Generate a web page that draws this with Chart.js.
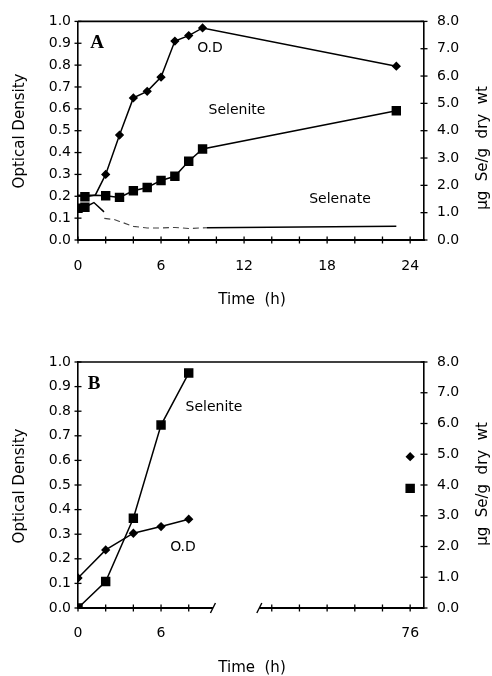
<!DOCTYPE html>
<html>
<head>
<meta charset="utf-8">
<script src="https://cdn.jsdelivr.net/npm/chart.js@4.4.1/dist/chart.umd.min.js"></script>
<style>
  body { margin: 0; background: #fff; width: 492px; height: 676px; overflow: hidden; }
  canvas { position: absolute; left: 0; }
  #chartA { top: 0; }
  #chartB { top: 330px; }
</style>
</head>
<body>
<canvas id="chartA" width="492" height="330"></canvas>
<canvas id="chartB" width="492" height="346"></canvas>
<script>
// ---- panel A (0-24 h) ----
const odTimeA = [0, 1.25, 2, 3, 4, 5, 6, 7, 8, 9, 23];
const odA = [0.205, 0.205, 0.30, 0.48, 0.65, 0.68, 0.745, 0.91, 0.935, 0.97, 0.795];
const seleniteTimeA = [0.5, 1.25, 2, 3, 4, 5, 6, 7, 8, 9, 23];
const seleniteA = [1.58, 1.64, 1.62, 1.56, 1.8, 1.92, 2.18, 2.33, 2.88, 3.33, 4.73];
const selenateTimeA = [0, 0.5, 1.15, 1.88, 1.9, 1.9, 2.6, 3, 4, 5, 6, 7, 8, 9.3, 23];
const selenateA = [1.16, 1.2, 1.37, 1.03, null, 0.79, 0.75, 0.68, 0.5, 0.44, 0.44, 0.46, 0.42, 0.45, 0.5];
const xTicksA = [0, 2, 4, 6, 8, 10, 12, 14, 16, 18, 20, 22, 24];
const xLabelsA = [0, 6, 12, 18, 24];

// ---- panel B (broken axis, 0-8 h and 76 h) ----
const timeB = [0, 2, 4, 6, 8, 76];
const odB = [0.122, 0.236, 0.304, 0.331, 0.361, 0.615];
const seleniteB = [0.0, 0.86, 2.92, 5.95, 7.64, 3.89];
const xTicksB = [0, 2, 4, 6, 8, 66, 68, 70, 72, 74, 76];
const xLabelsB = [0, 6, 76];

// broken time axis: hours after the break are shifted left
const BREAK_LO = 9.75, BREAK_HI = 13.1, SHIFT = 52;
function toAxis(t) { return t > 40 ? t - SHIFT : t; }
function fromAxis(u) { return u > BREAK_HI ? u + SHIFT : u; }

function pts(xs, ys, map) {
    return xs.map(function(x, i) { return {x: map ? map(x) : x, y: ys[i]}; });
}

Chart.defaults.font.family = 'DejaVu Sans';
Chart.defaults.font.size = 14;
Chart.defaults.color = '#000';

const FONT = '14px "DejaVu Sans"';

// cross tick marks, top frame line, broken axis and texts
const decor = {
    id: 'decor',
    afterDraw(chart, args, opts) {
        const ctx = chart.ctx, a = chart.chartArea;
        ctx.save();
        ctx.strokeStyle = '#000';
        ctx.lineWidth = 1.3;
        ['y', 'y1'].forEach(function(id) {
            const s = chart.scales[id];
            const x = id === 'y' ? a.left : a.right;
            s.ticks.forEach(function(t) {
                const py = s.getPixelForValue(t.value);
                ctx.beginPath(); ctx.moveTo(x - 3.5, py); ctx.lineTo(x + 3.5, py); ctx.stroke();
            });
        });
        const sx = chart.scales.x;
        sx.ticks.forEach(function(t) {
            const px = sx.getPixelForValue(t.value);
            ctx.beginPath(); ctx.moveTo(px, a.bottom - 3.5); ctx.lineTo(px, a.bottom + 3.5); ctx.stroke();
        });
        ctx.lineWidth = 1.6;
        ctx.beginPath(); ctx.moveTo(a.left, a.top); ctx.lineTo(a.right, a.top); ctx.stroke();
        if (opts.broken) {
            const p1 = sx.getPixelForValue(BREAK_LO), p2 = sx.getPixelForValue(BREAK_HI);
            ctx.lineWidth = 1.8;
            ctx.beginPath();
            ctx.moveTo(a.left, a.bottom); ctx.lineTo(p1, a.bottom);
            ctx.moveTo(p2, a.bottom); ctx.lineTo(a.right, a.bottom);
            ctx.stroke();
            ctx.lineWidth = 1.4;
            [p1, p2].forEach(function(p) {
                ctx.beginPath(); ctx.moveTo(p - 2.5, a.bottom + 5); ctx.lineTo(p + 2.5, a.bottom - 5); ctx.stroke();
            });
        }
        ctx.fillStyle = '#000';
        opts.texts.forEach(function(t) {
            ctx.save();
            ctx.font = t.font || FONT;
            ctx.textAlign = 'center';
            ctx.textBaseline = 'middle';
            ctx.translate(t.x, t.y);
            if (t.rot) ctx.rotate(t.rot);
            ctx.fillText(t.text, 0, 0);
            ctx.restore();
        });
        ctx.restore();
    }
};

function yAxes(width1, width2) {
    return {
        y: {
            position: 'left', min: 0, max: 1,
            ticks: { stepSize: 0.1, padding: 7, callback: function(v) { return v.toFixed(1); } },
            grid: { display: false, drawTicks: false },
            border: { color: '#000', width: 1.6 },
            afterFit: function(s) { s.width = width1; }
        },
        y1: {
            position: 'right', min: 0, max: 8,
            ticks: { stepSize: 1, padding: 13, callback: function(v) { return v.toFixed(1); } },
            grid: { display: false, drawTicks: false },
            border: { color: '#000', width: 1.6 },
            afterFit: function(s) { s.width = width2; }
        }
    };
}

const lineStyle = { borderColor: '#000', backgroundColor: '#000', borderWidth: 1.5, tension: 0, fill: false };

// ---- chart A ----
const scalesA = yAxes(78, 68);
scalesA.x = {
    type: 'linear', min: 0, max: 25,
    ticks: {
        padding: 18, autoSkip: false, maxRotation: 0,
        callback: function(v) { return xLabelsA.indexOf(v) >= 0 ? String(v) : ''; }
    },
    afterBuildTicks: function(s) {
        s.ticks = xTicksA.map(function(v) { return {value: v}; });
    },
    grid: { display: false, drawTicks: false },
    border: { color: '#000', width: 2 },
    afterFit: function(s) { s.height = 90; }
};

const dashedPart = function(c) { return c.p0.parsed.x >= 1.9 && c.p1.parsed.x <= 9.3; };

new Chart(document.getElementById('chartA'), {
    type: 'line',
    data: {
        datasets: [
            Object.assign({
                label: 'O.D', yAxisID: 'y', data: pts(odTimeA, odA),
                pointStyle: 'rectRot',
                pointRadius: function(c) { return c.raw && c.raw.x < 1.5 ? 0 : 3.6; }
            }, lineStyle),
            Object.assign({
                label: 'Selenite', yAxisID: 'y1', data: pts(seleniteTimeA, seleniteA),
                pointStyle: 'rect',
                pointRadius: function(c) { return c.raw && c.raw.x === 1.25 ? 0 : 5.6; }
            }, lineStyle),
            Object.assign({}, lineStyle, {
                label: 'Selenate', yAxisID: 'y1', data: pts(selenateTimeA, selenateA),
                pointStyle: 'rect', spanGaps: false,
                pointRadius: function(c) { return c.raw && c.raw.x <= 0.5 ? 5.6 : 0; },
                segment: {
                    borderDash: function(c) { return dashedPart(c) ? [6, 4] : undefined; },
                    borderColor: function(c) { return dashedPart(c) ? '#444' : '#000'; },
                    borderWidth: function(c) { return dashedPart(c) ? 1.1 : 1.5; }
                }
            })
        ]
    },
    options: {
        responsive: false, animation: false,
        layout: { padding: { top: 20, left: 0, right: 0, bottom: 0 } },
        scales: scalesA,
        plugins: {
            legend: { display: false }, tooltip: { enabled: false },
            decor: {
                broken: false,
                texts: [
                    { text: 'A', x: 97, y: 43, font: 'bold 19px "Liberation Serif"' },
                    { text: 'O.D', x: 210, y: 48 },
                    { text: 'Selenite', x: 237, y: 110 },
                    { text: 'Selenate', x: 340, y: 199 },
                    { text: 'Time  (h)', x: 252, y: 300, font: '15px "DejaVu Sans"' },
                    { text: 'Optical Density', x: 20, y: 131, rot: -Math.PI / 2, font: '15px "DejaVu Sans"' },
                    { text: 'µg  Se/g  dry  wt', x: 483, y: 148, rot: -Math.PI / 2, font: '15px "DejaVu Sans"' }
                ]
            }
        }
    },
    plugins: [decor]
});

// ---- chart B ----
const scalesB = yAxes(78, 68);
scalesB.x = {
    type: 'linear', min: 0, max: 25,
    ticks: {
        padding: 17, autoSkip: false, maxRotation: 0,
        callback: function(v) { const t = fromAxis(v); return xLabelsB.indexOf(t) >= 0 ? String(t) : ''; }
    },
    afterBuildTicks: function(s) {
        s.ticks = xTicksB.map(function(t) { return {value: toAxis(t)}; });
    },
    grid: { display: false, drawTicks: false },
    border: { display: false },
    afterFit: function(s) { s.height = 68; }
};

const skipBreak = { borderColor: function(c) { return c.p1.parsed.x > BREAK_HI ? 'transparent' : '#000'; } };

new Chart(document.getElementById('chartB'), {
    type: 'line',
    data: {
        datasets: [
            Object.assign({
                label: 'O.D', yAxisID: 'y', data: pts(timeB, odB, toAxis),
                pointStyle: 'rectRot', pointRadius: 3.6, segment: skipBreak
            }, lineStyle),
            Object.assign({
                label: 'Selenite', yAxisID: 'y1', data: pts(timeB, seleniteB, toAxis),
                pointStyle: 'rect', pointRadius: 5.6, segment: skipBreak
            }, lineStyle)
        ]
    },
    options: {
        responsive: false, animation: false,
        layout: { padding: { top: 32, left: 0, right: 0, bottom: 0 } },
        scales: scalesB,
        plugins: {
            legend: { display: false }, tooltip: { enabled: false },
            decor: {
                broken: true,
                texts: [
                    { text: 'B', x: 94, y: 54, font: 'bold 19px "Liberation Serif"' },
                    { text: 'Selenite', x: 214, y: 77 },
                    { text: 'O.D', x: 183, y: 217 },
                    { text: 'Time  (h)', x: 252, y: 338, font: '15px "DejaVu Sans"' },
                    { text: 'Optical Density', x: 20, y: 156, rot: -Math.PI / 2, font: '15px "DejaVu Sans"' },
                    { text: 'µg  Se/g  dry  wt', x: 483, y: 154, rot: -Math.PI / 2, font: '15px "DejaVu Sans"' }
                ]
            }
        }
    },
    plugins: [decor]
});
</script>
</body>
</html>
